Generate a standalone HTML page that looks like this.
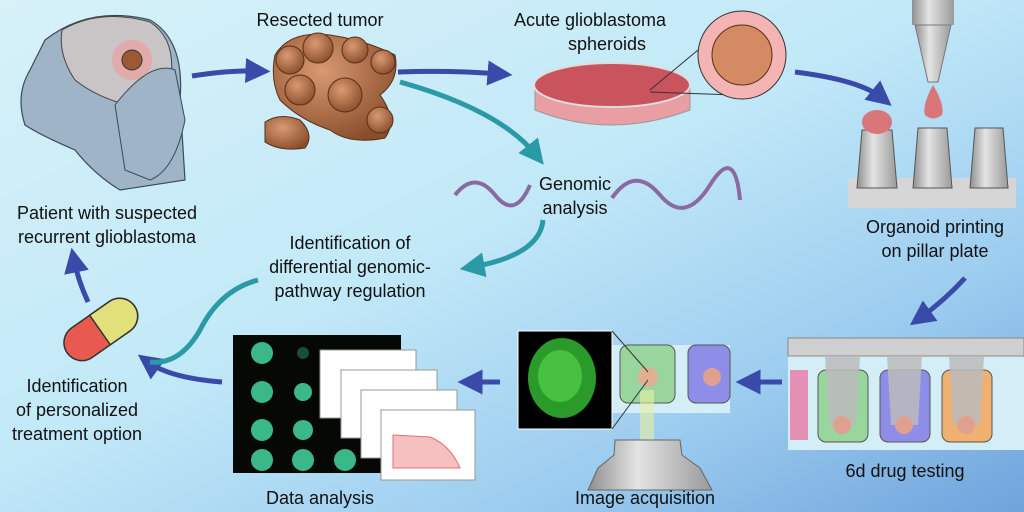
<!DOCTYPE html>
<html><head><meta charset="utf-8"><style>
html,body{margin:0;padding:0;width:1024px;height:512px;overflow:hidden}
svg{display:block}
text{font-family:"Liberation Sans",sans-serif;font-size:18px;fill:#111;text-anchor:middle}
</style></head><body>
<svg width="1024" height="512" viewBox="0 0 1024 512">
<defs>
<linearGradient id="bg" x1="0" y1="0" x2="1" y2="1">
<stop offset="0" stop-color="#d6f1f8"/><stop offset="0.45" stop-color="#c2e9f8"/><stop offset="0.75" stop-color="#9cccef"/><stop offset="1" stop-color="#6fa3dc"/></linearGradient>
<radialGradient id="tum" cx="0.4" cy="0.35" r="0.7"><stop offset="0" stop-color="#d99a72"/><stop offset="1" stop-color="#8a4e2c"/></radialGradient>
<linearGradient id="gr" x1="0" x2="1"><stop offset="0" stop-color="#8f8f8f"/><stop offset="0.4" stop-color="#e4e4e4"/><stop offset="1" stop-color="#9a9a9a"/></linearGradient>
<marker id="ab" markerWidth="5" markerHeight="5" refX="2.5" refY="2.5" orient="auto" markerUnits="strokeWidth"><path d="M0,0 L5,2.5 L0,5 z" fill="#3a4aa8"/></marker>
<marker id="at" markerWidth="5" markerHeight="5" refX="2.5" refY="2.5" orient="auto" markerUnits="strokeWidth"><path d="M0,0 L5,2.5 L0,5 z" fill="#2a9aa6"/></marker>
</defs>
<rect width="1024" height="512" fill="url(#bg)"/>

<!-- head -->
<path d="M45,40 Q90,5 150,20 Q185,40 180,100 L185,180 L120,190 Q95,175 75,150 Q40,135 25,125 Q15,95 30,70 Z" fill="#9fb4c6" stroke="#3a4a5a" stroke-width="1.2"/>
<path d="M62,30 Q100,8 150,22 Q178,40 170,85 L140,108 Q100,100 75,80 Q58,55 62,30Z" fill="#c9c4c6" stroke="#444" stroke-width="1"/>
<circle cx="132" cy="60" r="20" fill="#f19b9b" opacity="0.6"/>
<circle cx="132" cy="60" r="10" fill="#9c5a34" stroke="#333"/>
<path d="M115,105 Q150,60 175,70 L185,120 Q175,170 150,180 L125,170 Z" fill="#9fb4c6" stroke="#3a4a5a"/>

<text x="107" y="219">Patient with suspected</text>
<text x="107" y="243">recurrent glioblastoma</text>

<!-- arrows blue -->
<path d="M192,76 Q230,70 258,71" fill="none" stroke="#3a4aa8" stroke-width="5" marker-end="url(#ab)"/>
<path d="M398,72 Q450,70 500,74" fill="none" stroke="#3a4aa8" stroke-width="5" marker-end="url(#ab)"/>
<path d="M795,72 Q860,80 882,98" fill="none" stroke="#3a4aa8" stroke-width="5" marker-end="url(#ab)"/>
<path d="M965,278 Q945,300 920,318" fill="none" stroke="#3a4aa8" stroke-width="5" marker-end="url(#ab)"/>
<path d="M782,382 L748,382" fill="none" stroke="#3a4aa8" stroke-width="5" marker-end="url(#ab)"/>
<path d="M500,382 L470,382" fill="none" stroke="#3a4aa8" stroke-width="5" marker-end="url(#ab)"/>
<path d="M222,382 Q170,378 148,362" fill="none" stroke="#3a4aa8" stroke-width="5" marker-end="url(#ab)"/>
<path d="M88,302 Q78,280 74,260" fill="none" stroke="#3a4aa8" stroke-width="5" marker-end="url(#ab)"/>

<!-- teal arrows -->
<path d="M400,82 Q500,110 536,155" fill="none" stroke="#2a9aa6" stroke-width="5" marker-end="url(#at)"/>
<path d="M543,220 Q540,255 472,267" fill="none" stroke="#2a9aa6" stroke-width="5" marker-end="url(#at)"/>
<path d="M258,280 Q220,290 200,330 Q180,365 150,362" fill="none" stroke="#2a9aa6" stroke-width="5"/>

<!-- tumor -->
<g fill="url(#tum)" stroke="#5a2e18">
<path d="M275,55 Q290,30 330,35 Q365,40 395,55 Q400,80 380,95 Q398,120 385,138 Q350,145 330,130 Q300,120 280,100 Q270,80 275,55Z"/>
<circle cx="290" cy="60" r="14"/><circle cx="318" cy="48" r="15"/><circle cx="355" cy="50" r="13"/><circle cx="383" cy="62" r="12"/>
<circle cx="300" cy="90" r="15"/><circle cx="345" cy="95" r="17"/><circle cx="380" cy="120" r="13"/>
<path d="M265,122 Q280,112 300,120 Q315,135 305,148 Q280,152 265,142Z"/>
</g>
<text x="320" y="26">Resected tumor</text>

<!-- petri dish -->
<text x="590" y="26">Acute glioblastoma</text>
<text x="607" y="50">spheroids</text>
<path d="M535,85 L535,110 Q610,140 690,110 L690,85" fill="#e89ea2" stroke="#999"/>
<ellipse cx="612" cy="85" rx="78" ry="22" fill="#c9545e" stroke="#ddd" stroke-width="2"/>
<line x1="650" y1="90" x2="710" y2="40" stroke="#333"/>
<line x1="650" y1="92" x2="735" y2="95" stroke="#333"/>
<circle cx="742" cy="55" r="44" fill="#f4b4b4" stroke="#333"/>
<circle cx="742" cy="55" r="30" fill="#d48a62" stroke="#5a2e18"/>

<!-- DNA -->
<path d="M455,195 Q475,170 495,195 T530,185" fill="none" stroke="#8a6aa0" stroke-width="4"/>
<path d="M612,198 Q635,165 660,195 T710,185 T740,200" fill="none" stroke="#8a6aa0" stroke-width="4"/>
<text x="575" y="190">Genomic</text>
<text x="575" y="214">analysis</text>

<text x="350" y="249">Identification of</text>
<text x="350" y="273">differential genomic-</text>
<text x="350" y="297">pathway regulation</text>

<!-- pill -->
<g transform="rotate(-35 100 330)">
<rect x="60" y="312" width="82" height="36" rx="18" fill="#e85a50" stroke="#333" stroke-width="1.5"/>
<path d="M100,312 H124 A18,18 0 0 1 124,348 H100 Z" fill="#e2e07a" stroke="#333" stroke-width="1.5"/>
</g>
<text x="77" y="392">Identification</text>
<text x="77" y="416">of personalized</text>
<text x="77" y="440">treatment option</text>

<!-- nozzle / pillar plate -->
<rect x="912" y="0" width="42" height="25" fill="url(#gr)"/>
<path d="M915,25 L951,25 L938,82 L928,82Z" fill="url(#gr)" stroke="#777"/>
<path d="M933,85 Q945,105 942,115 Q933,122 925,115 Q922,105 933,85Z" fill="#d8767a"/>
<rect x="848" y="178" width="168" height="30" fill="#d6d6d6"/>
<path d="M862,130 L892,130 L897,188 L857,188Z" fill="url(#gr)" stroke="#555"/>
<ellipse cx="877" cy="122" rx="15" ry="12" fill="#d8767a"/>
<path d="M918,128 L947,128 L952,188 L913,188Z" fill="url(#gr)" stroke="#555"/>
<path d="M975,128 L1003,128 L1008,188 L970,188Z" fill="url(#gr)" stroke="#555"/>
<text x="935" y="233">Organoid printing</text>
<text x="935" y="257">on pillar plate</text>

<!-- drug testing -->
<rect x="788" y="338" width="236" height="112" fill="#d4eef8"/>
<rect x="788" y="338" width="236" height="18" fill="#cfcfcf" stroke="#888"/>
<rect x="790" y="370" width="18" height="70" fill="#e490b4"/>
<rect x="818" y="370" width="50" height="72" rx="8" fill="#98d69e" stroke="#555"/>
<rect x="880" y="370" width="50" height="72" rx="8" fill="#8e8ee8" stroke="#555"/>
<rect x="942" y="370" width="50" height="72" rx="8" fill="#f0b070" stroke="#555"/>
<path d="M825,356 L860,356 L856,425 L829,425Z" fill="#bbb" opacity="0.85"/>
<path d="M887,356 L922,356 L918,425 L891,425Z" fill="#bbb" opacity="0.85"/>
<path d="M949,356 L984,356 L980,425 L953,425Z" fill="#bbb" opacity="0.85"/>
<circle cx="842" cy="425" r="9" fill="#e0a090"/><circle cx="904" cy="425" r="9" fill="#e0a090"/><circle cx="966" cy="425" r="9" fill="#e0a090"/>
<text x="905" y="477">6d drug testing</text>

<!-- image acquisition -->
<rect x="612" y="345" width="118" height="68" fill="#d4eef8"/>
<rect x="620" y="345" width="55" height="58" rx="8" fill="#98d69e" stroke="#555"/>
<rect x="688" y="345" width="42" height="58" rx="8" fill="#8e8ee8" stroke="#555"/>
<circle cx="648" cy="377" r="10" fill="#e0b090"/><circle cx="712" cy="377" r="9" fill="#e0a090"/>
<rect x="640" y="390" width="14" height="50" fill="#e8f0a0" opacity="0.6"/>
<path d="M615,440 L680,440 L682,455 L700,468 L712,490 L588,490 L598,468 L614,455Z" fill="url(#gr)" stroke="#666"/>
<rect x="518" y="331" width="94" height="98" fill="#000" stroke="#fff"/>
<ellipse cx="562" cy="378" rx="34" ry="40" fill="#2a9a2a"/>
<ellipse cx="560" cy="376" rx="22" ry="26" fill="#48c040"/>
<line x1="612" y1="331" x2="648" y2="372" stroke="#333"/>
<line x1="612" y1="429" x2="648" y2="380" stroke="#333"/>
<text x="645" y="504">Image acquisition</text>

<!-- data analysis -->
<rect x="233" y="335" width="168" height="138" fill="#050805"/>
<g fill="#3ab888">
<circle cx="262" cy="353" r="11"/><circle cx="262" cy="392" r="11"/><circle cx="262" cy="430" r="11"/><circle cx="262" cy="460" r="11"/>
<circle cx="303" cy="392" r="9"/><circle cx="303" cy="430" r="10"/><circle cx="303" cy="460" r="11"/><circle cx="303" cy="353" r="6" opacity="0.4"/>
<circle cx="345" cy="460" r="11"/></g>
<rect x="320" y="350" width="96" height="68" fill="#fff" stroke="#999"/>
<rect x="341" y="370" width="96" height="68" fill="#fff" stroke="#999"/>
<rect x="361" y="390" width="96" height="68" fill="#fff" stroke="#999"/>
<rect x="381" y="410" width="94" height="70" fill="#fff" stroke="#999"/>
<path d="M393,435 L430,437 Q450,445 460,468 L393,468Z" fill="#f6c0c0" stroke="#e07070"/>
<text x="320" y="504">Data analysis</text>
</svg>
</body></html>
